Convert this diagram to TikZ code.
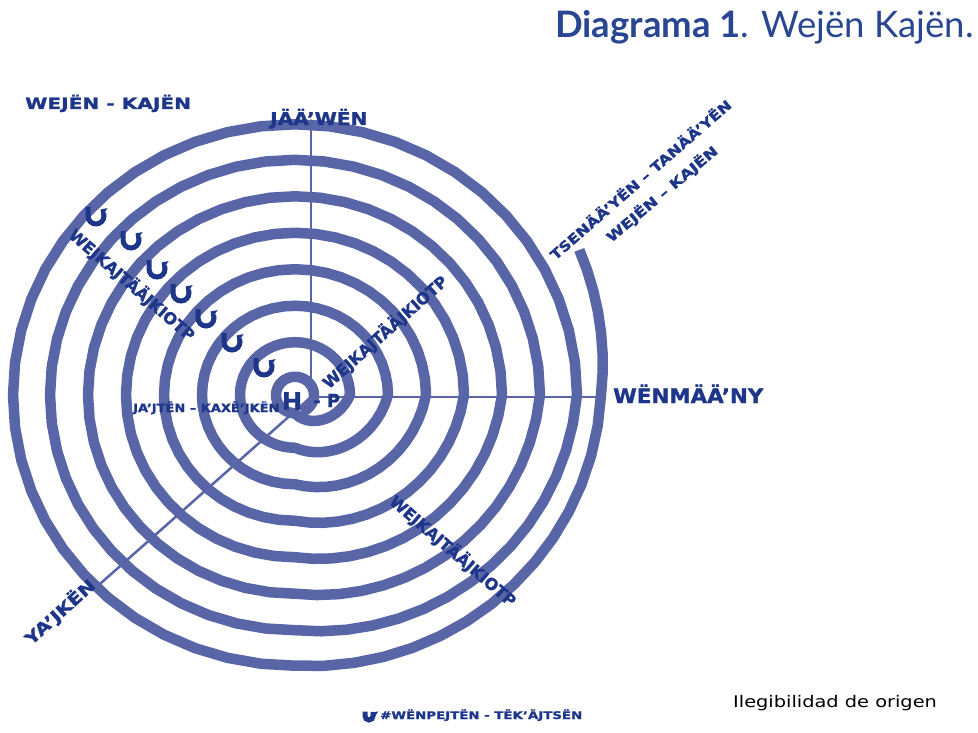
\documentclass[tikz,border=0pt]{standalone}
\usepackage{fontspec}
\setmainfont{DejaVu Sans}[BoldFeatures={FakeBold=1.3}]
\newfontfamily\titlefont{Lato}
\usetikzlibrary{arrows.meta}
\definecolor{ring}{RGB}{88,101,166}
\definecolor{lab}{RGB}{30,54,138}
\definecolor{ttl}{RGB}{40,70,145}
\newcommand{\fsz}[1]{\fontsize{#1}{#1}\selectfont}
\begin{document}
\begin{tikzpicture}[x=1pt,y=-1pt,
  spiral/.style={line width=10.5pt, color=ring, line join=round},
  axis/.style={line width=2.5pt, color=ring, -{Straight Barb[length=6pt,width=11pt,line width=2pt]}},
  lbl/.style={text=lab, font=\bfseries, inner sep=0pt},
  curlst/.style={line width=5pt, color=lab, -{Triangle[length=5pt,width=10pt]}},
  curl/.pic={\draw[curlst] (-8,-9) -- (-8,0) arc[start angle=180,end angle=-55,radius=8];}
]
\useasboundingbox (0,0) rectangle (978,733);
\fill[white] (0,0) rectangle (978,733);

% spiral
\begin{scope}[shift={(295,395)}, yscale=-1]
\draw[spiral] plot[domain=28:0,samples=8] ({(306+16*(\x)/28)*cos(\x)},{0.96*(306+16*(\x)/28)*sin(\x)})
 \foreach \s/\ra/\rb/\e in {0/306/282/-360,-360/282/245/-720,-720/245/207/-1080,-1080/207/169/-1440,-1440/169/131/-1800,-1800/131/93/-2160,-2160/93/55/-2520,-2520/55/19/-2950}{
   -- plot[domain=\s:\s-90,samples=16] ({(\ra+(\rb-\ra)*(\s-(\x))/90)*cos(\x)},{0.96*(\ra+(\rb-\ra)*(\s-(\x))/90)*sin(\x)})
   -- plot[domain=\s-90:\e,samples=40] ({\rb*cos(\x)},{0.96*\rb*sin(\x)})
 };
\end{scope}

% axes
\coordinate (O) at (311,397);
\coordinate (N) at (311,119);
\coordinate (E) at (604,397);
\coordinate (SW) at (92,591);
\draw[axis] (O) -- (N);
\draw[axis] (O) -- (E);
\draw[axis] (O) -- (SW);

% curled arrows
\foreach \p/\q [count=\i] in {96/216,131/240,157/269,181/293,206/318,232/342,264/367}
  \pic (c\i) at (\p,\q) {curl};

% labels
\node[lbl, anchor=base west] (wk) at (25,109) {\fsz{15.5}\scalebox{1.3}[1]{WEJËN - KAJËN}};
\node[lbl, anchor=base west] (north) at (270,125) {\fsz{17.5}\scalebox{1.15}[1]{JÄÄ'WËN}};
\node[lbl, anchor=base west] (east) at (613,403) {\fsz{20}\scalebox{1.07}[1]{WËNMÄÄ'NY}};
\node[lbl, rotate=42] (sw) at (60,612) {\fsz{16.5}\scalebox{1.22}[1]{YA'JKËN}};
\node[lbl, rotate=41] (ts) at (640,179) {\fsz{13.5}\scalebox{1.2}[1]{TSENÄÄ'YËN – TANÄÄ'YËN}};
\node[lbl, rotate=40] (wk2) at (662,194) {\fsz{13.5}\scalebox{1.25}[1]{WEJËN – KAJËN}};
\node[lbl, rotate=-41] (w1) at (132,285) {\fsz{16}WEJKAJTÄÄJKIOTP};
\node[lbl, rotate=41.6] (w2) at (385,332) {\fsz{16}WEJKAJTÄÄJKIOTP};
\node[lbl, rotate=-40.6] (w3) at (453,551) {\fsz{16}WEJKAJTÄÄJKIOTP};
\node[lbl, anchor=base west] (jk) at (133,412) {\fsz{11.5}\scalebox{1.13}[1]{JA'JTËN – KAXË'JKËN}};
\node[lbl] (h) at (292,401) {\fsz{24}H};
\node[lbl, anchor=base west] (p) at (313,407) {\fsz{18}- P};

% legend
\pic[scale=0.5] (lg) at (369,716) {curl};
\node[lbl, anchor=base west] (leg) at (380,719) {\fsz{10.5}\scalebox{1.27}[1]{\#WËNPEJTËN - TËK'ÄJTSËN}};

% title and note
\node[text=ttl, anchor=base east, inner sep=0pt] (title) at (974,38) {\titlefont\fsz{36.5}\textbf{Diagrama 1}. Wejën Kajën.};
\node[anchor=base west, inner sep=0pt] (note) at (733,707) {\fsz{16}\scalebox{1.21}[1]{Ilegibilidad de origen}};
\end{tikzpicture}
\end{document}
